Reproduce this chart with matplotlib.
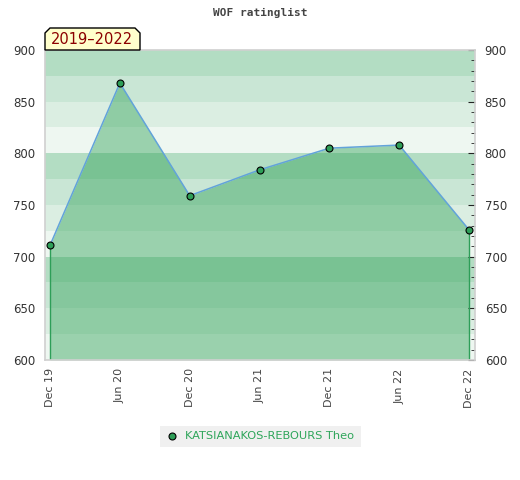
import matplotlib
matplotlib.use("Agg")
import matplotlib.pyplot as plt
from matplotlib.patches import Polygon, Rectangle
from matplotlib.ticker import MultipleLocator

labels = ["Dec 19", "Jun 20", "Dec 20", "Jun 21", "Dec 21", "Jun 22", "Dec 22"]
ratings = [711, 868, 759, 784, 805, 808, 726]
player = "KATSIANAKOS-REBOURS Theo"
period = "2019\u20132022"

band_colors = ["#b3ddc3", "#c9e6d5", "#dbeee2", "#eef7f1"]
green = "#2e9e58"

fig = plt.figure(figsize=(5.2, 4.8), dpi=100)
ax = fig.add_axes([45/520, 1 - 360/480, 430/520, 310/480])
x = list(range(len(labels)))

# background stripes, 25 points each, cycling 4 shades
for i, lo in enumerate(range(600, 900, 25)):
    c = band_colors[3 - (i % 4)]
    ax.axhspan(lo, lo + 25, color=c, lw=0, zorder=0)

ax.fill_between(x, ratings, 600, color="#2fa156", alpha=0.44, lw=0, zorder=1)
ax.plot([x[0], x[0]], [600, ratings[0]], color=green, lw=1, zorder=2)
ax.plot([x[-1], x[-1]], [600, ratings[-1]], color=green, lw=1, zorder=2)
ax.plot(x, ratings, color="#62a3da", lw=1.1, zorder=3)
ax.plot(x, ratings, "o", ms=5, mfc=green, mec="black", mew=0.8, zorder=4)

ax.set_xlim(-0.072, 6.086)
ax.set_ylim(600, 900)
ax.set_xticks(x)
ax.set_xticklabels(labels, rotation=90, fontsize=8, color="#444444")
ax.tick_params(axis="x", length=0, pad=6)

ax.yaxis.set_major_locator(MultipleLocator(50))
ax.tick_params(axis="y", which="both", left=False, right=True, labelleft=True,
               labelright=True, direction="in", labelsize=8.5, labelcolor="#333333")
ax.yaxis.set_minor_locator(MultipleLocator(10))
ax.tick_params(axis="y", which="major", length=5, color="#222222", pad=7)
ax.tick_params(axis="y", which="minor", length=3, color="#222222")
for s in ax.spines.values():
    s.set_color("#d0d0d0")
    s.set_linewidth(1.2)

fig.text(260/520, 1 - 13/480, "WOF ratinglist", ha="center", va="center",
         family="DejaVu Sans Mono", weight="bold", fontsize=8, color="#444444")

# period label box with chamfered top corners
bx0, bx1, by0, by1, ch = 45, 140, 50, 28, 5
pts = [(bx0, by0), (bx0, by1 + ch), (bx0 + ch, by1), (bx1 - ch, by1),
       (bx1, by1 + ch), (bx1, by0)]
pts = [(px / 520, 1 - py / 480) for px, py in pts]
fig.patches.append(Polygon(pts, closed=True, transform=fig.transFigure,
                           fc="#ffffcc", ec="black", lw=1, zorder=5))
fig.text(92/520, 1 - 40/480, period, ha="center", va="center",
         fontsize=10.5, color="#8b0000", zorder=6)

# legend
fig.patches.append(Rectangle((160/520, 1 - 447/480), 201/520, 21/480,
                             transform=fig.transFigure, fc="#f0f0f0", ec="none"))
fig.lines.append(plt.Line2D([172/520], [1 - 436/480], marker="o", ms=5,
                            mfc=green, mec="black", mew=0.8, ls="none",
                            transform=fig.transFigure))
fig.text(185/520, 1 - 436/480, player, ha="left", va="center",
         fontsize=8.2, color="#2ea55a")

fig.savefig("out.png", dpi=100)
